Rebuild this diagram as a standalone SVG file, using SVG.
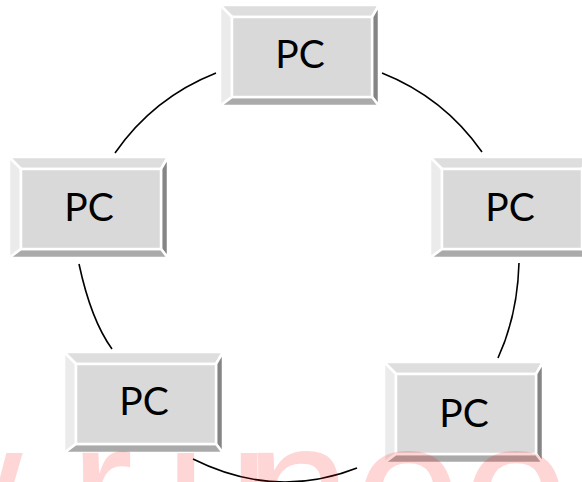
<svg xmlns="http://www.w3.org/2000/svg" xmlns:xlink="http://www.w3.org/1999/xlink" width="582" height="482" viewBox="0 0 582 482">
  <style>
    .bv { stroke: #ffffff; stroke-width: 2.5; stroke-linejoin: round; }
    .t { fill: #d9d9d9; }
    .bt { fill: #dedede; }
    .bl { fill: #ebebeb; }
    .br { fill: #858585; }
    .bb { fill: #aaaaaa; }
    .lbl { font-family: Lato, "Open Sans", sans-serif; font-size: 39px; fill: #000000; text-anchor: middle; }
    .wire { fill: none; stroke: #000000; stroke-width: 1.6; }
    .wm { font-family: "Liberation Sans", Arial, sans-serif; font-size: 190px; fill: #ff0000; fill-opacity: 0.16; }
  </style>
  <defs>
    <g id="bevel">
      <polygon class="bv bt" points="0,0 159,0 152,12 12,12"/>
      <polygon class="bv bl" points="0,0 12,12 12,92 0,101"/>
      <polygon class="bv br" points="159,0 159,101 152,92 152,12"/>
      <polygon class="bv bb" points="0,101 159,101 152,92 12,92"/>
      <rect class="bv t" x="12" y="12" width="140" height="80"/>
    </g>
  </defs>
  <rect width="582" height="482" fill="#ffffff"/>
  <g id="connectors">
    <path class="wire" d="M115,153 A222,222 0 0 1 216,73"/>
    <path class="wire" d="M382,73 A222,222 0 0 1 482,152"/>
    <path class="wire" d="M519,263 Q517.5,315.5 498,358"/>
    <path class="wire" d="M79,264 Q91,320 112,349"/>
    <path class="wire" d="M193,459 Q275,500 357,468"/>
  </g>
  <g id="pc-top" transform="translate(220,5)">
    <use xlink:href="#bevel"/>
    <text class="lbl" x="80" y="63">PC</text>
  </g>
  <g id="pc-left" transform="translate(9,157)">
    <use xlink:href="#bevel"/>
    <text class="lbl" x="80" y="64">PC</text>
  </g>
  <g id="pc-right" transform="translate(430,157)">
    <use xlink:href="#bevel"/>
    <text class="lbl" x="80" y="64">PC</text>
  </g>
  <g id="pc-bottom-left" transform="translate(64,352)">
    <use xlink:href="#bevel"/>
    <text class="lbl" x="80" y="63">PC</text>
  </g>
  <g id="pc-bottom-right" transform="translate(384,362)">
    <use xlink:href="#bevel"/>
    <text class="lbl" x="80" y="65">PC</text>
  </g>
  <text class="wm" x="-115 25 70 165 245 355 463 590" y="553">w.runoob</text>
</svg>
